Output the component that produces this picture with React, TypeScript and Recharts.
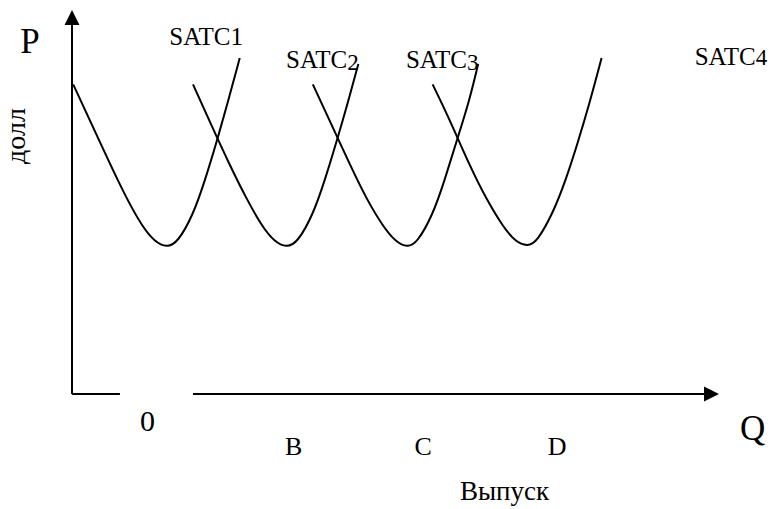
import { LineChart, Line, XAxis, YAxis, ReferenceLine, ReferenceDot } from 'recharts'

// short-run average total cost curves (q = output, p = dollars)
const satc1 = [
  { q: 0.1, p: 25.8 }, { q: 1.5, p: 22.8 }, { q: 3.2, p: 19.1 }, { q: 4.6, p: 16.2 },
  { q: 5.9, p: 13.9 }, { q: 6.9, p: 12.7 }, { q: 7.9, p: 12.2 }, { q: 8.8, p: 12.6 },
  { q: 10.1, p: 14.9 }, { q: 11.1, p: 17.8 }, { q: 12.1, p: 21.1 }, { q: 13.0, p: 24.3 },
  { q: 14.0, p: 28.0 },
]
const satc2 = [
  { q: 10.1, p: 25.8 }, { q: 11.5, p: 22.7 }, { q: 13.2, p: 19.0 }, { q: 14.6, p: 16.2 },
  { q: 15.9, p: 13.9 }, { q: 16.9, p: 12.7 }, { q: 17.9, p: 12.2 }, { q: 18.8, p: 12.6 },
  { q: 20.1, p: 14.9 }, { q: 21.1, p: 17.8 }, { q: 22.1, p: 21.1 }, { q: 23.0, p: 24.2 },
  { q: 23.9, p: 27.5 },
]
const satc3 = [
  { q: 20.1, p: 25.8 }, { q: 21.5, p: 22.8 }, { q: 23.2, p: 19.1 }, { q: 24.6, p: 16.2 },
  { q: 26.0, p: 13.9 }, { q: 27.0, p: 12.7 }, { q: 28.0, p: 12.2 }, { q: 28.8, p: 12.6 },
  { q: 30.1, p: 14.9 }, { q: 31.1, p: 17.8 }, { q: 32.1, p: 21.1 }, { q: 33.1, p: 24.2 },
  { q: 33.9, p: 27.5 },
]
const satc4 = [
  { q: 30.1, p: 25.8 }, { q: 31.6, p: 22.7 }, { q: 33.2, p: 19.0 }, { q: 34.6, p: 16.2 },
  { q: 36.0, p: 13.9 }, { q: 37.0, p: 12.7 }, { q: 38.0, p: 12.3 }, { q: 38.8, p: 12.65 },
  { q: 40.2, p: 15.2 }, { q: 41.2, p: 17.8 }, { q: 42.2, p: 20.9 }, { q: 43.2, p: 24.25 },
  { q: 44.2, p: 28.0 },
]

const curveNames = ['SATC', 'SATC', 'SATC', 'SATC']
const curveDigits = ['1', '2', '3', '4']
const outputMarks = ['0', 'B', 'C', 'D']
const axisTitles = ['P', 'долл', 'Q', 'Выпуск']

const Q_MAX = 54
const P_MAX = 32
const GAP = [4.0, 10.1] // break in the horizontal axis

const FONT = "'Liberation Serif', 'Times New Roman', serif"

// label anchors (data units): curve names, output marks
const curveAt = [
  { q: 11.2, p: 29.1, digitSize: 25, dy: 0 },
  { q: 20.9, p: 27.2, digitSize: 23, dy: 2 },
  { q: 30.9, p: 27.2, digitSize: 23, dy: 2 },
  { q: 55.0, p: 27.4, digitSize: 23, dy: 0 },
]
const marksAt = [
  { q: 6.3, p: -3.1, size: 30 },
  { q: 18.5, p: -5.1, size: 26 },
  { q: 29.3, p: -5.1, size: 26 },
  { q: 40.5, p: -5.1, size: 26 },
]

const upArrow = ({ cx, cy }: any) => (
  <path d={`M${cx},${cy} L${cx - 7.5},${cy + 15} L${cx + 7.5},${cy + 15} Z`} fill="#000" />
)
const rightArrow = ({ cx, cy }: any) => (
  <path d={`M${cx},${cy} L${cx - 15},${cy - 7.5} L${cx - 15},${cy + 7.5} Z`} fill="#000" />
)

function textShape(text: React.ReactNode, size: number, rotate = 0) {
  return ({ cx, cy }: any) => (
    <text
      x={cx}
      y={cy}
      textAnchor="middle"
      fontFamily={FONT}
      fontSize={size}
      fill="#000"
      transform={rotate ? `rotate(${rotate} ${cx} ${cy})` : undefined}
    >
      {text}
    </text>
  )
}

export default function App() {
  const curves = [satc1, satc2, satc3, satc4]

  return (
    <div style={{ width: 773, height: 509 }}>
      <style>{'body { margin: 0; }'}</style>
      <LineChart width={773} height={509} margin={{ top: 10, right: 54, bottom: 115, left: 72 }}>
        <XAxis type="number" dataKey="q" domain={[0, Q_MAX]} hide allowDataOverflow />
        <YAxis type="number" dataKey="p" domain={[0, P_MAX]} hide allowDataOverflow />

        {/* axes with arrows; the Q axis has a break after the origin */}
        <ReferenceLine segment={[{ x: 0, y: 0 }, { x: 0, y: P_MAX - 1 }]} stroke="#000" strokeWidth={2} ifOverflow="visible" />
        <ReferenceLine segment={[{ x: 0, y: 0 }, { x: GAP[0], y: 0 }]} stroke="#000" strokeWidth={2} ifOverflow="visible" />
        <ReferenceLine segment={[{ x: GAP[1], y: 0 }, { x: Q_MAX - 1, y: 0 }]} stroke="#000" strokeWidth={2} ifOverflow="visible" />
        <ReferenceDot x={0} y={P_MAX} r={0} shape={upArrow} ifOverflow="visible" />
        <ReferenceDot x={Q_MAX} y={0} r={0} shape={rightArrow} ifOverflow="visible" />

        {curves.map((d, i) => (
          <Line
            key={i}
            data={d}
            dataKey="p"
            type="basis"
            stroke="#000"
            strokeWidth={2}
            dot={false}
            activeDot={false}
            isAnimationActive={false}
          />
        ))}

        {curveNames.map((name, i) => (
          <ReferenceDot
            key={`c${i}`}
            x={curveAt[i].q}
            y={curveAt[i].p}
            r={0}
            ifOverflow="visible"
            shape={textShape(
              <>
                {name}
                <tspan fontSize={curveAt[i].digitSize} dy={curveAt[i].dy}>{curveDigits[i]}</tspan>
              </>,
              25,
            )}
          />
        ))}

        {outputMarks.map((m, i) => (
          <ReferenceDot
            key={`m${i}`}
            x={marksAt[i].q}
            y={marksAt[i].p}
            r={0}
            ifOverflow="visible"
            shape={textShape(m, marksAt[i].size)}
          />
        ))}

        <ReferenceDot x={-3.5} y={28.4} r={0} ifOverflow="visible" shape={textShape(axisTitles[0], 35)} />
        <ReferenceDot x={-3.9} y={21.5} r={0} ifOverflow="visible" shape={textShape(axisTitles[1], 28, -90)} />
        <ReferenceDot x={56.8} y={-3.8} r={0} ifOverflow="visible" shape={textShape(axisTitles[2], 35)} />
        <ReferenceDot x={36.1} y={-8.8} r={0} ifOverflow="visible" shape={textShape(axisTitles[3], 27)} />
      </LineChart>
    </div>
  )
}
